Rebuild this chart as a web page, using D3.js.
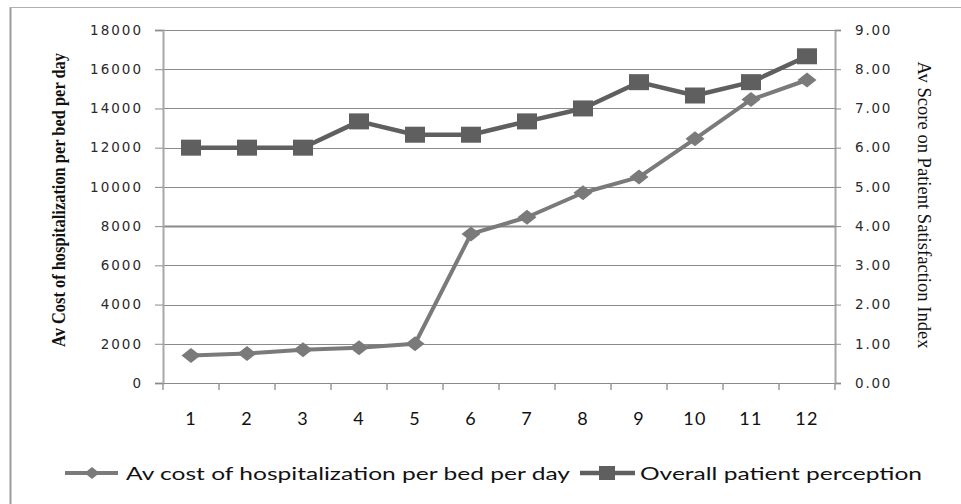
<!DOCTYPE html>
<html>
<head>
<meta charset="utf-8">
<script src="https://cdn.jsdelivr.net/npm/d3@7"></script>
<style>
  html, body { margin: 0; padding: 0; background: #fff; }
  svg { display: block; }
</style>
</head>
<body>
<svg id="chart" width="961" height="504"></svg>
<script>
// Categories (hospital groups) and the two series
const categories = ["1","2","3","4","5","6","7","8","9","10","11","12"];
const costPerBed = [1400, 1500, 1700, 1800, 2000, 7600, 8450, 9700, 10500, 12450, 14450, 15450];
const satisfactionScore = [6.00, 6.00, 6.00, 6.67, 6.33, 6.33, 6.67, 7.00, 7.67, 7.33, 7.67, 8.33];
const leftTicks = [0, 2000, 4000, 6000, 8000, 10000, 12000, 14000, 16000, 18000];
const rightTicks = [0, 1, 2, 3, 4, 5, 6, 7, 8, 9];
const seriesNames = ["Av cost of hospitalization per bed per day", "Overall patient perception"];
const leftTitle = "Av Cost of hospitalization per bed per day";
const rightTitle = "Av Score on Patient Satisfaction Index";

const svg = d3.select("#chart");
const plot = { left: 163, right: 835, top: 30, bottom: 383 };

const x = d3.scaleBand().domain(categories).range([plot.left, plot.right]);
const yL = d3.scaleLinear().domain([0, 18000]).range([plot.bottom, plot.top]);
const yR = d3.scaleLinear().domain([0, 9]).range([plot.bottom, plot.top]);

const costColor = "#7a7a7a";
const scoreColor = "#5f5f5f";

// Outer frame
svg.append("line").attr("x1", 10.5).attr("x2", 10.5).attr("y1", 7).attr("y2", 504)
  .attr("stroke", "#9a9a9a").attr("stroke-width", 2);
svg.append("line").attr("x1", 10).attr("x2", 961).attr("y1", 7.5).attr("y2", 7.5)
  .attr("stroke", "#b0b0b0").attr("stroke-width", 1);

// Horizontal gridlines
svg.append("g").selectAll("line").data(leftTicks.filter(d => d > 0)).join("line")
  .attr("x1", plot.left).attr("x2", plot.right)
  .attr("y1", d => Math.round(yL(d)) + 0.5).attr("y2", d => Math.round(yL(d)) + 0.5)
  .attr("stroke", "#8a8a8a").attr("stroke-width", d => d === 8000 ? 2 : 1.2);

// Left axis
const gL = svg.append("g").attr("transform", `translate(${plot.left},0)`)
  .call(d3.axisLeft(yL).tickValues(leftTicks).tickSize(8).tickPadding(12).tickFormat(d3.format("d")));
gL.select(".domain").attr("stroke", "#a8a8a8").attr("stroke-width", 2);
gL.selectAll(".tick line").attr("stroke", "#8a8a8a");
gL.selectAll(".tick text").attr("font-family", "DejaVu Sans").attr("font-size", 13.5)
  .attr("letter-spacing", 2).attr("fill", "#2a2a2a").attr("dx", 0);

// Right axis
const gR = svg.append("g").attr("transform", `translate(${plot.right},0)`)
  .call(d3.axisRight(yR).tickValues(rightTicks).tickSize(6).tickPadding(14).tickFormat(d3.format(".2f")));
gR.select(".domain").attr("stroke", "#a8a8a8").attr("stroke-width", 2);
gR.selectAll(".tick line").attr("stroke", "#8a8a8a");
gR.selectAll(".tick text").attr("font-family", "DejaVu Sans").attr("font-size", 13.5)
  .attr("letter-spacing", 1.8).attr("fill", "#2a2a2a");

// Bottom axis: ticks at category boundaries
const gB = svg.append("g").attr("transform", `translate(0,${plot.bottom})`);
gB.append("line").attr("x1", plot.left).attr("x2", plot.right).attr("y1", 0.5).attr("y2", 0.5)
  .attr("stroke", "#8a8a8a").attr("stroke-width", 1.2);
const bounds = categories.map(c => x(c)).concat([x(categories[categories.length - 1]) + x.bandwidth()]);
gB.selectAll("line.tk").data(bounds).join("line").attr("class", "tk")
  .attr("x1", d => d).attr("x2", d => d).attr("y1", 0).attr("y2", 7)
  .attr("stroke", "#9a9a9a").attr("stroke-width", 1.5);
gB.selectAll("text").data(categories).join("text")
  .attr("x", d => x(d) + x.bandwidth() / 2).attr("y", 42)
  .attr("text-anchor", "middle").attr("font-family", "Lato").attr("font-size", 18)
  .attr("letter-spacing", 1.2).attr("fill", "#111").text(d => d);

// Axis titles
svg.append("text")
  .attr("transform", `translate(65,200) rotate(-90)`)
  .attr("text-anchor", "middle").attr("font-family", "Liberation Serif").attr("font-weight", "bold")
  .attr("font-size", 18.5).attr("fill", "#111")
  .attr("textLength", 294).attr("lengthAdjust", "spacingAndGlyphs").text(leftTitle);
svg.append("text")
  .attr("transform", `translate(918,205) rotate(90)`)
  .attr("text-anchor", "middle").attr("font-family", "Liberation Serif")
  .attr("font-size", 18).attr("fill", "#111")
  .attr("textLength", 287).attr("lengthAdjust", "spacingAndGlyphs").text(rightTitle);

// Marker paths
const diamond = (cx, cy, w, h) => `M${cx - w / 2},${cy}L${cx},${cy - h / 2}L${cx + w / 2},${cy}L${cx},${cy + h / 2}Z`;
const cx = i => x(categories[i]) + x.bandwidth() / 2;

// Cost series
svg.append("path").datum(costPerBed)
  .attr("d", d3.line().x((d, i) => cx(i)).y(d => yL(d)))
  .attr("fill", "none").attr("stroke", costColor).attr("stroke-width", 4).attr("stroke-linejoin", "round");
svg.append("g").selectAll("path").data(costPerBed).join("path")
  .attr("d", (d, i) => diamond(cx(i), yL(d), 19, 15)).attr("fill", costColor);

// Satisfaction series
svg.append("path").datum(satisfactionScore)
  .attr("d", d3.line().x((d, i) => cx(i)).y(d => yR(d)))
  .attr("fill", "none").attr("stroke", scoreColor).attr("stroke-width", 4.5).attr("stroke-linejoin", "round");
svg.append("g").selectAll("rect").data(satisfactionScore).join("rect")
  .attr("x", (d, i) => cx(i) - 10).attr("y", d => yR(d) - 8)
  .attr("width", 20).attr("height", 16).attr("fill", scoreColor);

// Legend
const leg = svg.append("g");
const ly = 473;
leg.append("line").attr("x1", 65).attr("x2", 118).attr("y1", ly).attr("y2", ly)
  .attr("stroke", costColor).attr("stroke-width", 4);
leg.append("path").attr("d", diamond(92, ly, 15, 12)).attr("fill", costColor);
leg.append("text").attr("x", 126).attr("y", ly + 6.5).attr("font-family", "Lato").attr("font-size", 18)
  .attr("fill", "#111").attr("textLength", 444).attr("lengthAdjust", "spacingAndGlyphs").text(seriesNames[0]);
leg.append("line").attr("x1", 580).attr("x2", 635).attr("y1", ly).attr("y2", ly)
  .attr("stroke", scoreColor).attr("stroke-width", 4.5);
leg.append("rect").attr("x", 599).attr("y", ly - 7).attr("width", 16).attr("height", 14).attr("fill", scoreColor);
leg.append("text").attr("x", 640).attr("y", ly + 6.5).attr("font-family", "Lato").attr("font-size", 18)
  .attr("fill", "#111").attr("textLength", 282).attr("lengthAdjust", "spacingAndGlyphs").text(seriesNames[1]);
</script>
</body>
</html>
